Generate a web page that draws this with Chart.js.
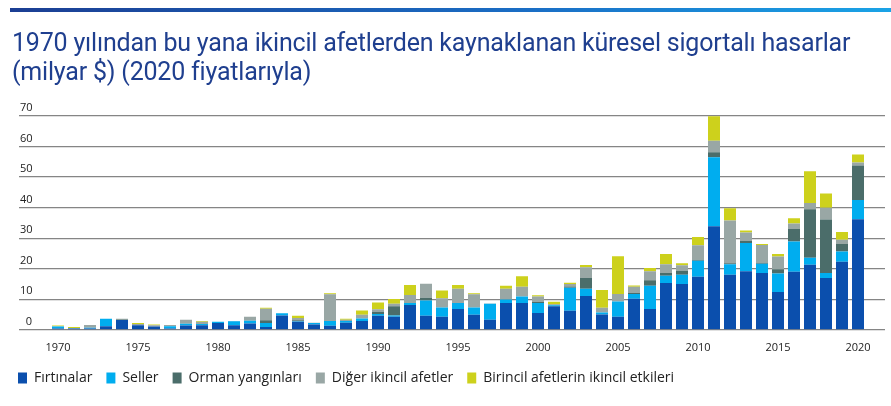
<!DOCTYPE html>
<html>
<head>
<meta charset="utf-8">
<script src="https://cdn.jsdelivr.net/npm/chart.js@4.4.1/dist/chart.umd.min.js"></script>
<style>
  body { margin: 0; background: #fff; width: 891px; height: 406px; position: relative; overflow: hidden; }
  .topbar { position: absolute; left: 10px; top: 8px; width: 881px; height: 4px;
            background: linear-gradient(to right, #1b3e93, #1a6fc6 60%, #1aa3e6); }
  h1 { position: absolute; left: 12px; top: 28px; margin: 0; z-index: 2;
       font-family: "Liberation Sans Narrow", "Roboto", sans-serif; font-weight: normal;
       font-size: 25px; line-height: 29px; color: #1f3f8f; letter-spacing: -0.2px; }
  .wrap { position: absolute; left: 0; top: 0; width: 891px; height: 406px; }
</style>
</head>
<body>
<div class="topbar"></div>
<h1>1970 yılından bu yana ikincil afetlerden kaynaklanan küresel sigortalı hasarlar<br>(milyar $) (2020 fiyatlarıyla)</h1>
<div class="wrap"><canvas id="myChart"></canvas></div>
<script>
const years = [];
for (let y = 1970; y <= 2020; y++) years.push(y);

const yearTicks = [1970, 1975, 1980, 1985, 1990, 1995, 2000, 2005, 2010, 2015, 2020];
const valueTicks = [0, 10, 20, 30, 40, 50, 60, 70];

const storms = [0.4, 0.4, 0.4, 1.2, 3.2, 1.5, 1.1, 0.4, 1.4, 1.5,
  2.2, 1.5, 2.1, 0.9, 4.7, 2.6, 1.7, 1.3, 2.3, 2.9,
  4.6, 4.3, 8.1, 4.6, 4.3, 6.8, 4.9, 3.3, 8.8, 8.8,
  5.5, 7.7, 6.2, 11.1, 5.0, 4.3, 10.2, 6.8, 15.3, 15.0,
  17.4, 33.9, 18.0, 19.2, 18.6, 12.4, 19.0, 21.3, 17.0, 22.3,
  36.2];
const floods = [0.7, 0.1, 0.3, 2.4, 0, 0, 0, 0.8, 0.6, 0.4,
  0.4, 1.3, 0.9, 1.3, 0.7, 0.2, 0.5, 1.6, 0.6, 0.8,
  0.6, 0.4, 0.7, 5.0, 3.0, 2.0, 2.4, 5.2, 1.1, 2.1,
  3.3, 0.3, 7.6, 2.3, 0.7, 5.0, 1.5, 7.6, 2.4, 3.0,
  5.2, 22.6, 3.5, 9.2, 3.0, 6.0, 9.9, 2.3, 1.6, 3.3,
  6.3];
const wildfires = [0, 0, 0, 0, 0.2, 0, 0, 0, 0, 0,
  0, 0, 0, 0.9, 0, 0.3, 0, 0, 0, 0,
  0.7, 3.0, 0, 0.9, 0, 0, 0, 0, 0, 0,
  0.4, 0.2, 0.4, 3.6, 0, 0, 0.4, 1.8, 0.9, 1.3,
  0.3, 1.6, 0.3, 0.65, 0.3, 1.4, 4.1, 15.9, 17.5, 2.5,
  11.3];
const otherSecondary = [0.1, 0.1, 0.9, 0, 0.2, 0.4, 0.4, 0.4, 1.3, 0.7,
  0, 0.1, 1.3, 3.8, 0, 0.8, 0.1, 8.7, 0.4, 1.2,
  0.8, 0.8, 2.6, 4.6, 3.0, 4.6, 4.3, 0.1, 3.5, 3.2,
  1.7, 0.2, 0.8, 3.5, 1.5, 2.4, 2.0, 3.0, 2.9, 1.8,
  4.8, 3.8, 14.0, 2.8, 5.9, 4.2, 1.8, 2.0, 3.9, 1.4,
  1.0];
const primaryEffects = [0.2, 0.3, 0, 0, 0, 0.3, 0.2, 0, 0, 0.3,
  0, 0, 0, 0.3, 0, 0.7, 0, 0.4, 0.3, 1.4,
  2.2, 1.6, 3.3, 0, 2.6, 1.3, 0.4, 0, 1.0, 3.4,
  0.4, 0.8, 0.4, 0.7, 5.8, 12.4, 0.4, 1.0, 3.3, 0.7,
  2.7, 8.0, 4.0, 0.65, 0.3, 0.8, 1.7, 10.4, 4.6, 2.5,
  2.6];

const seriesNames = ['Fırtınalar', 'Seller', 'Orman yangınları', 'Diğer ikincil afetler', 'Birincil afetlerin ikincil etkileri'];
const seriesColors = ['#0b4fad', '#00adef', '#4b6d6a', '#99a7a5', '#cdd11c'];
const seriesValues = [storms, floods, wildfires, otherSecondary, primaryEffects];

const toPoints = arr => arr.map((v, i) => ({ x: years[i], y: v }));

Chart.defaults.font.family = '"Open Sans", sans-serif';
Chart.defaults.color = '#222';

const ctx = document.getElementById('myChart').getContext('2d');
const myChart = new Chart(ctx, {
    type: 'bar',
    data: {
        datasets: seriesValues.map((vals, i) => ({
            label: seriesNames[i],
            data: toPoints(vals),
            backgroundColor: seriesColors[i],
            borderWidth: 0,
            barPercentage: 0.75,
            categoryPercentage: 1
        }))
    },
    options: {
        responsive: true,
        maintainAspectRatio: false,
        animation: false,
        layout: { padding: { left: 4, right: 6, top: 116, bottom: 11 } },
        plugins: {
            tooltip: { enabled: false },
            legend: {
                position: 'bottom',
                align: 'start',
                labels: {
                    boxWidth: 9,
                    boxHeight: 11,
                    padding: 14,
                    color: '#222',
                    font: { size: 14 }
                }
            }
        },
        scales: {
            x: {
                type: 'linear',
                stacked: true,
                offset: false,
                min: 1967.5625,
                max: 2021.6875,
                grid: { display: false, drawTicks: false },
                border: { display: false },
                afterBuildTicks: axis => { axis.ticks = yearTicks.map(v => ({ value: v })); },
                afterFit: axis => { axis.height -= 8; },
                ticks: {
                    maxRotation: 0,
                    autoSkip: false,
                    padding: 11,
                    font: { size: 11 },
                    callback: v => String(v)
                }
            },
            y: {
                stacked: true,
                min: 0,
                max: 70,
                afterFit: axis => { axis.width = 15; },
                afterBuildTicks: axis => { axis.ticks = valueTicks.map(v => ({ value: v })); },
                grid: { color: '#858585', lineWidth: 1.2, drawTicks: false },
                border: { display: false },
                ticks: {
                    mirror: true,
                    padding: 1,
                    labelOffset: -8,
                    font: { size: 11 },
                    callback: v => (v === 0 ? '  ' : '') + v
                }
            }
        }
    }
});
</script>
</body>
</html>
